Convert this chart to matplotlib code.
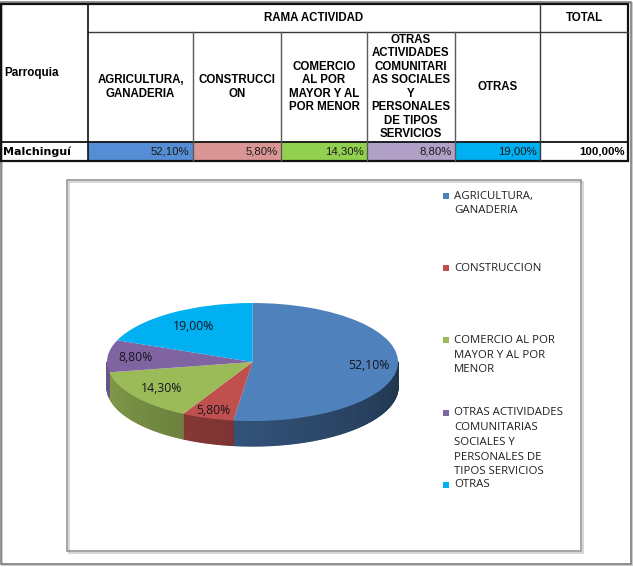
import numpy as np
import matplotlib
matplotlib.use('Agg')
import matplotlib.pyplot as plt
from matplotlib.patches import Rectangle
from matplotlib.collections import PolyCollection
from matplotlib.colors import to_rgb

# datos de la tabla / grafico
parroquia = 'Malchinguí'
cabecera_tabla = ['AGRICULTURA,\nGANADERIA', 'CONSTRUCCI\nON',
                  'COMERCIO\nAL POR\nMAYOR Y AL\nPOR MENOR',
                  'OTRAS\nACTIVIDADES\nCOMUNITARI\nAS SOCIALES\nY\nPERSONALES\nDE TIPOS\nSERVICIOS',
                  'OTRAS']
categorias = ['AGRICULTURA,\nGANADERIA', 'CONSTRUCCION',
              'COMERCIO AL POR\nMAYOR Y AL POR\nMENOR',
              'OTRAS ACTIVIDADES\nCOMUNITARIAS\nSOCIALES Y\nPERSONALES DE\nTIPOS SERVICIOS',
              'OTRAS']
porcentajes = [52.10, 5.80, 14.30, 8.80, 19.00]
total = 100.00

colores_tabla = ['#558ED5', '#DA9694', '#92D050', '#B1A0C7', '#00B0F0']
colores_pie = ['#4F81BD', '#C0504D', '#9BBB59', '#8064A2', '#00B0F0']

TFONT = 'Liberation Sans'
CFONT = 'Open Sans'


def fmt(v):
    return ('%.2f' % v).replace('.', ',') + '%'


W, H = 633, 567
fig = plt.figure(figsize=(W / 100, H / 100), dpi=100)
ax = fig.add_axes([0, 0, 1, 1])
ax.set_xlim(0, W)
ax.set_ylim(H, 0)
ax.axis('off')

# marco exterior
ax.add_patch(Rectangle((1.5, 2.5), 630, 562, fc='none', ec='#c4c4c4', lw=1.2))
ax.add_patch(Rectangle((0.5, 1.5), 630, 562, fc='none', ec='#808080', lw=1.2))

# ---- tabla ----
col_x = [1, 88, 193, 281, 367, 455, 540, 628]
row_y = [4, 32, 142, 161]

for i, c in enumerate(colores_tabla):
    ax.add_patch(Rectangle((col_x[i + 1], row_y[2]), col_x[i + 2] - col_x[i + 1],
                           row_y[3] - row_y[2], fc=c, ec='none'))

lc = '#3a3a3a'
ax.plot([col_x[1], col_x[-1]], [row_y[1]] * 2, color=lc, lw=1)
ax.plot([col_x[0], col_x[-1]], [row_y[2]] * 2, color='#111111', lw=1.3)
ax.plot([col_x[1]] * 2, [row_y[0], row_y[3]], color='#111111', lw=1.2)
ax.plot([col_x[6]] * 2, [row_y[0], row_y[3]], color=lc, lw=1)
for x in col_x[2:6]:
    ax.plot([x, x], [row_y[1], row_y[3]], color='#5a5a5a', lw=1)
ax.add_patch(Rectangle((col_x[0], row_y[0]), col_x[-1] - col_x[0], row_y[3] - row_y[0],
                       fc='none', ec='#111111', lw=1.6))

ax.text(4, (row_y[0] + row_y[2]) / 2, 'Parroquia', ha='left', va='center',
        fontsize=8.4, family=TFONT, weight='bold')
ax.text((col_x[1] + col_x[6]) / 2, (row_y[0] + row_y[1]) / 2, 'RAMA ACTIVIDAD',
        ha='center', va='center', fontsize=8.3, family=TFONT, weight='bold')
ax.text((col_x[6] + col_x[7]) / 2, (row_y[0] + row_y[1]) / 2, 'TOTAL',
        ha='center', va='center', fontsize=8.3, family=TFONT, weight='bold')

pitch_t = 13.4
ymid = (row_y[1] + row_y[2]) / 2
for i, lab in enumerate(cabecera_tabla):
    lines = lab.split('\n')
    xc = (col_x[i + 1] + col_x[i + 2]) / 2
    for k, ln in enumerate(lines):
        y = ymid + (k - (len(lines) - 1) / 2) * pitch_t
        ax.text(xc, y, ln, ha='center', va='center', fontsize=8.3,
                family=TFONT, weight='bold')

yrow = (row_y[2] + row_y[3]) / 2
ax.text(3, yrow, parroquia, ha='left', va='center', fontsize=8,
        family='DejaVu Sans', weight='bold')
for i, v in enumerate(porcentajes):
    ax.text(col_x[i + 2] - 3.5, yrow, fmt(v), ha='right', va='center',
            fontsize=8.2, family=TFONT, color='#1a1a1a')
ax.text(col_x[7] - 3, yrow, fmt(total), ha='right', va='center',
        fontsize=8.2, family=TFONT, weight='bold')

# ---- caja del grafico ----
ax.add_patch(Rectangle((68.5, 181.5), 514, 371, fc='none', ec='#cfcfcf', lw=1.2))
ax.add_patch(Rectangle((67, 180), 514, 371, fc='none', ec='#8c8c8c', lw=1.1))

# ---- pastel 3D ----
cx, cy, a, b, depth = 252.5, 362, 145.5, 59, 25
axp = fig.add_axes([(cx - 1.3 * a) / W, (H - cy - 1.8 * b) / H, 2.6 * a / W, 3.1 * b / H])

vals = np.array(porcentajes)
bounds = 90 - 360 * np.concatenate([[0], np.cumsum(vals) / vals.sum()])
d = depth / b

polys, fcols = [], []
for i, col in enumerate(colores_pie):
    lo, hi = max(bounds[i + 1], -180), min(bounds[i], 0)
    if lo >= hi:
        continue
    th = np.linspace(lo, hi, int((hi - lo) / 1.0) + 2)
    base = np.array(to_rgb(col))
    for t1, t2 in zip(th[:-1], th[1:]):
        r1, r2 = np.radians(t1), np.radians(t2)
        polys.append([(np.cos(r1), np.sin(r1)), (np.cos(r2), np.sin(r2)),
                      (np.cos(r2), np.sin(r2) - d), (np.cos(r1), np.sin(r1) - d)])
        f = 0.85 - 0.45 * ((t1 + t2) / 2 + 180) / 180
        fcols.append(np.clip(base * f, 0, 1))
axp.add_collection(PolyCollection(polys, facecolors=fcols, edgecolors=fcols,
                                  linewidths=0.9, zorder=1))

wedges, _ = axp.pie(vals, colors=colores_pie, startangle=90, counterclock=False,
                    radius=1, wedgeprops=dict(linewidth=0), frame=False)
for w in wedges:
    w.set_zorder(2)
axp.set_aspect('auto')
axp.set_xlim(-1.3, 1.3)
axp.set_ylim(-1.8, 1.3)
axp.axis('off')

label_r = [0.8, 0.86, 0.77, 0.81, 0.72]
for i, v in enumerate(vals):
    mid = np.radians((bounds[i] + bounds[i + 1]) / 2)
    axp.text(label_r[i] * np.cos(mid), label_r[i] * np.sin(mid), fmt(v),
             ha='center', va='center', fontsize=8.8, family=CFONT,
             color='#15151f', zorder=3)

# ---- leyenda ----
leg_y0, leg_step, leg_pitch = 196, 72.2, 14.8
for i, (lab, col) in enumerate(zip(categorias, colores_pie)):
    y = leg_y0 + i * leg_step
    ax.add_patch(Rectangle((443, y - 3), 6, 6, fc=col, ec='none'))
    for k, ln in enumerate(lab.split('\n')):
        ax.text(454, y + k * leg_pitch, ln, ha='left', va='center',
                fontsize=8.2, family=CFONT, color='#1f1f1f')

fig.savefig('out.png', dpi=100)
